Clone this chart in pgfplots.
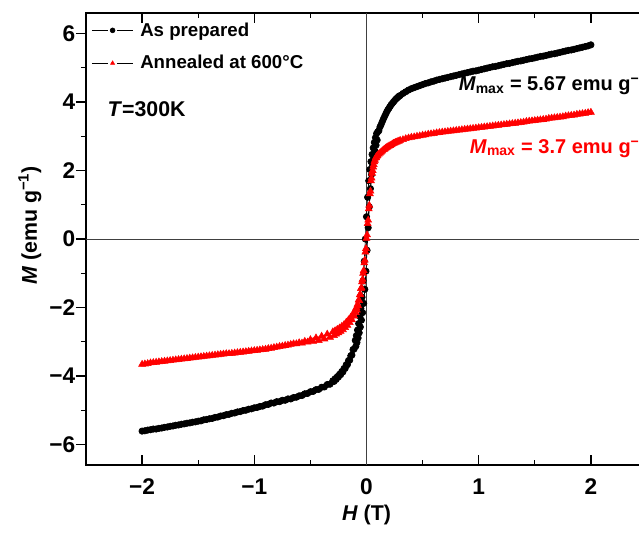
\documentclass[border=0pt]{standalone}
\usepackage{pgfplots}
\pgfplotsset{compat=1.18}
\usepackage{fontspec}
\setmainfont{Liberation Sans}

% magnetisation loops M(H) at 300 K
\newcommand{\tickfont}{\fontsize{17}{20}\selectfont\bfseries}
\newcommand{\labfont}{\fontsize{16}{19}\selectfont\bfseries}
\newcommand{\legfont}{\fontsize{14}{17}\selectfont\bfseries}
\newcommand{\annfont}{\fontsize{15}{18}\selectfont\bfseries}
\definecolor{zeroline}{HTML}{404040}

\begin{document}
\begin{tikzpicture}
\begin{axis}[
  scale only axis,
  width=420.75pt, height=339pt,
  xmin=-2.5, xmax=2.5, ymin=-6.6, ymax=6.6,
  axis line style={line width=1pt},
  xtick={-2,-1,0,1,2},
  xticklabels={−2,−1,0,1,2},
  ytick={-6,-4,-2,0,2,4,6},
  yticklabels={−6,−4,−2,0,2,4,6},
  minor x tick num=1, minor y tick num=1,
  xtick align=inside, ytick align=outside,
  xtick pos=both, ytick pos=left,
  major tick length=7.5pt, minor tick length=3.75pt,
  every tick/.style={line width=1pt, black},
  tick label style={font=\tickfont},
  xticklabel style={yshift=-7pt},
  yticklabel style={xshift=3pt},
  xlabel={\textit{H} (T)},
  ylabel={\textit{M} (emu g\textsuperscript{−1})},
  label style={font=\labfont},
  xlabel style={at={(axis description cs:0.5,-0.111)}, anchor=center},
  ylabel style={at={(axis description cs:-0.1,0.53)}, anchor=center},
  legend style={at={(axis description cs:0,1)}, anchor=north west,
    draw=none, fill=none, font=\legfont, row sep=9pt,
    inner xsep=4pt, inner ysep=5pt,
    /tikz/every odd column/.append style={column sep=3pt}},
  legend cell align=left,
  legend image code/.code={
    \draw[#1, mark=none] (0pt,0pt) -- (12pt,0pt);
    \draw[#1, mark=none] (19pt,0pt) -- (31pt,0pt);
    \draw[#1, only marks, mark size=1.8pt] plot coordinates {(15.5pt,0pt)};},
]
% zero lines
\addplot[zeroline, line width=0.7pt, forget plot] coordinates {(-2.5,0) (2.5,0)};
\addplot[zeroline, line width=0.7pt, forget plot] coordinates {(0,-6.6) (0,6.6)};

% as prepared: descending branch, then ascending branch
\addplot[black, line width=0.5pt, mark=*, mark size=2.4pt,
  mark options={fill=black, draw=black}] coordinates {
(2.00,5.67)(1.95,5.62)(1.90,5.58)(1.85,5.54)(1.80,5.51)(1.75,5.47)(1.70,5.43)(1.65,5.40)(1.60,5.36)(1.55,5.33)
(1.50,5.29)(1.45,5.26)(1.40,5.22)(1.35,5.19)(1.30,5.15)(1.25,5.12)(1.20,5.08)(1.15,5.04)(1.10,5.01)(1.05,4.97)
(1.00,4.93)(0.95,4.90)(0.90,4.86)(0.85,4.82)(0.80,4.78)(0.75,4.74)(0.70,4.70)(0.65,4.66)(0.60,4.61)(0.55,4.56)
(0.50,4.51)(0.45,4.45)(0.40,4.39)(0.35,4.30)(0.30,4.19)
(0.28,4.14)(0.26,4.08)(0.24,4.00)(0.22,3.92)(0.20,3.82)(0.18,3.71)(0.16,3.57)(0.14,3.42)(0.12,3.27)(0.10,3.13)
(0.09,3.08)(0.08,2.96)(0.07,2.82)(0.06,2.66)(0.05,2.47)(0.04,2.26)(0.03,2.03)(0.02,1.70)(0.01,1.22)(0.00,0.65)
(-0.01,0.00)(-0.02,-0.65)(-0.03,-1.22)(-0.04,-1.70)(-0.05,-2.03)(-0.06,-2.26)(-0.07,-2.47)(-0.08,-2.66)(-0.09,-2.82)(-0.10,-2.96)
(-0.12,-3.23)(-0.14,-3.41)(-0.16,-3.55)(-0.18,-3.67)(-0.20,-3.78)(-0.22,-3.87)(-0.24,-3.95)(-0.26,-4.02)(-0.28,-4.08)(-0.30,-4.14)
(-0.35,-4.25)(-0.40,-4.33)(-0.45,-4.40)(-0.50,-4.46)(-0.55,-4.52)(-0.60,-4.58)(-0.65,-4.63)(-0.70,-4.67)(-0.75,-4.71)(-0.80,-4.75)
(-0.85,-4.79)(-0.90,-4.84)(-0.95,-4.89)(-1.00,-4.93)(-1.05,-4.97)(-1.10,-5.01)(-1.15,-5.05)(-1.20,-5.09)(-1.25,-5.13)(-1.30,-5.17)
(-1.35,-5.21)(-1.40,-5.25)(-1.45,-5.28)(-1.50,-5.32)(-1.55,-5.35)(-1.60,-5.38)(-1.65,-5.41)(-1.70,-5.44)(-1.75,-5.47)(-1.80,-5.50)
(-1.85,-5.53)(-1.90,-5.55)(-1.95,-5.58)(-2.00,-5.61)
(-1.975,-5.60)(-1.925,-5.57)(-1.875,-5.55)(-1.825,-5.52)(-1.775,-5.49)(-1.725,-5.46)(-1.675,-5.43)(-1.625,-5.40)(-1.575,-5.37)(-1.525,-5.34)
(-1.475,-5.31)(-1.425,-5.27)(-1.375,-5.24)(-1.325,-5.20)(-1.275,-5.16)(-1.225,-5.12)(-1.175,-5.08)(-1.125,-5.04)(-1.075,-5.00)(-1.025,-4.96)
(-0.975,-4.92)(-0.925,-4.88)(-0.875,-4.83)(-0.825,-4.79)(-0.775,-4.75)(-0.725,-4.71)(-0.675,-4.67)(-0.625,-4.62)(-0.575,-4.57)(-0.525,-4.51)
(-0.475,-4.45)(-0.425,-4.39)(-0.375,-4.32)(-0.325,-4.24)
(-0.29,-4.16)(-0.27,-4.10)(-0.25,-4.03)(-0.23,-3.96)(-0.21,-3.88)(-0.19,-3.78)(-0.17,-3.67)(-0.15,-3.54)(-0.13,-3.39)(-0.11,-3.21)
(-0.095,-3.13)(-0.085,-3.02)(-0.075,-2.89)(-0.065,-2.74)(-0.055,-2.57)(-0.045,-2.37)(-0.035,-2.15)(-0.025,-1.88)(-0.015,-1.47)(-0.005,-0.94)
(0.005,-0.33)(0.015,0.33)(0.025,0.94)(0.035,1.47)(0.045,1.88)(0.055,2.15)(0.065,2.37)(0.075,2.57)(0.085,2.74)(0.095,2.89)
(0.11,3.16)(0.13,3.34)(0.15,3.50)(0.17,3.64)(0.19,3.77)(0.21,3.87)(0.23,3.96)(0.25,4.04)(0.27,4.11)(0.29,4.17)
(0.325,4.25)(0.375,4.35)(0.425,4.42)(0.475,4.48)(0.525,4.54)(0.575,4.59)(0.625,4.64)(0.675,4.68)(0.725,4.72)(0.775,4.76)
(0.825,4.80)(0.875,4.84)(0.925,4.88)(0.975,4.91)(1.025,4.95)(1.075,4.99)(1.125,5.03)(1.175,5.06)(1.225,5.10)(1.275,5.13)
(1.325,5.17)(1.375,5.20)(1.425,5.24)(1.475,5.27)(1.525,5.31)(1.575,5.34)(1.625,5.38)(1.675,5.41)(1.725,5.45)(1.775,5.49)
(1.825,5.52)(1.875,5.56)(1.925,5.60)(1.975,5.64)
};
\addlegendentry{As prepared}

% annealed at 600 C: descending branch, then ascending branch
\addplot[black, line width=0.4pt, mark=triangle*, mark size=3pt,
  mark options={fill=red, draw=red}] coordinates {
(2.00,3.70)(1.95,3.67)(1.90,3.65)(1.85,3.62)(1.80,3.60)(1.75,3.57)(1.70,3.55)(1.65,3.53)(1.60,3.50)(1.55,3.48)
(1.50,3.46)(1.45,3.44)(1.40,3.41)(1.35,3.39)(1.30,3.37)(1.25,3.35)(1.20,3.33)(1.15,3.31)(1.10,3.29)(1.05,3.27)
(1.00,3.25)(0.95,3.23)(0.90,3.21)(0.85,3.19)(0.80,3.17)(0.75,3.15)(0.70,3.13)(0.65,3.11)(0.60,3.08)(0.55,3.06)
(0.50,3.03)(0.45,3.00)(0.40,2.97)(0.35,2.93)(0.30,2.88)
(0.28,2.85)(0.26,2.82)(0.24,2.79)(0.22,2.75)(0.20,2.71)(0.18,2.67)(0.16,2.62)(0.14,2.57)(0.12,2.51)(0.10,2.45)
(0.09,2.41)(0.08,2.36)(0.07,2.25)(0.06,2.10)(0.05,1.92)(0.04,1.70)(0.03,1.32)(0.02,0.88)(0.01,0.45)(0.00,0.02)
(-0.01,-0.38)(-0.02,-0.70)(-0.03,-1.00)(-0.04,-1.25)(-0.05,-1.45)(-0.06,-1.63)(-0.07,-1.78)(-0.08,-1.91)(-0.09,-2.00)(-0.10,-2.07)
(-0.12,-2.19)(-0.14,-2.28)(-0.16,-2.36)(-0.18,-2.43)(-0.20,-2.50)(-0.22,-2.55)(-0.24,-2.60)(-0.26,-2.64)(-0.28,-2.68)(-0.30,-2.71)
(-0.35,-2.78)(-0.40,-2.84)(-0.45,-2.89)(-0.50,-2.94)(-0.55,-2.99)(-0.60,-3.03)(-0.65,-3.06)(-0.70,-3.10)(-0.75,-3.13)(-0.80,-3.16)
(-0.85,-3.19)(-0.90,-3.22)(-0.95,-3.24)(-1.00,-3.26)(-1.05,-3.28)(-1.10,-3.30)(-1.15,-3.32)(-1.20,-3.34)(-1.25,-3.35)(-1.30,-3.37)
(-1.35,-3.39)(-1.40,-3.41)(-1.45,-3.43)(-1.50,-3.45)(-1.55,-3.47)(-1.60,-3.49)(-1.65,-3.51)(-1.70,-3.53)(-1.75,-3.55)(-1.80,-3.57)
(-1.85,-3.59)(-1.90,-3.61)(-1.95,-3.64)(-2.00,-3.66)
(-1.975,-3.65)(-1.925,-3.62)(-1.875,-3.60)(-1.825,-3.58)(-1.775,-3.56)(-1.725,-3.54)(-1.675,-3.52)(-1.625,-3.50)(-1.575,-3.48)(-1.525,-3.46)
(-1.475,-3.44)(-1.425,-3.42)(-1.375,-3.40)(-1.325,-3.38)(-1.275,-3.36)(-1.225,-3.35)(-1.175,-3.33)(-1.125,-3.31)(-1.075,-3.29)(-1.025,-3.27)
(-0.975,-3.25)(-0.925,-3.23)(-0.875,-3.20)(-0.825,-3.17)(-0.775,-3.14)(-0.725,-3.11)(-0.675,-3.08)(-0.625,-3.06)(-0.575,-3.04)(-0.525,-3.01)
(-0.475,-2.99)(-0.425,-2.97)(-0.375,-2.92)(-0.325,-2.87)
(-0.29,-2.82)(-0.27,-2.78)(-0.25,-2.74)(-0.23,-2.70)(-0.21,-2.65)(-0.19,-2.59)(-0.17,-2.52)(-0.15,-2.44)(-0.13,-2.36)(-0.11,-2.25)
(-0.095,-2.15)(-0.085,-2.08)(-0.075,-1.95)(-0.065,-1.80)(-0.055,-1.62)(-0.045,-1.42)(-0.035,-1.18)(-0.025,-0.92)(-0.015,-0.62)(-0.005,-0.28)
(0.005,0.12)(0.015,0.55)(0.025,0.98)(0.035,1.40)(0.045,1.78)(0.055,2.00)(0.065,2.17)(0.075,2.30)(0.085,2.38)(0.095,2.43)
(0.11,2.48)(0.13,2.54)(0.15,2.60)(0.17,2.65)(0.19,2.69)(0.21,2.73)(0.23,2.77)(0.25,2.80)(0.27,2.83)(0.29,2.86)
(0.325,2.90)(0.375,2.95)(0.425,2.98)(0.475,3.01)(0.525,3.04)(0.575,3.07)(0.625,3.10)(0.675,3.12)(0.725,3.14)(0.775,3.16)
(0.825,3.18)(0.875,3.20)(0.925,3.22)(0.975,3.24)(1.025,3.26)(1.075,3.28)(1.125,3.30)(1.175,3.32)(1.225,3.34)(1.275,3.36)
(1.325,3.38)(1.375,3.40)(1.425,3.43)(1.475,3.45)(1.525,3.47)(1.575,3.49)(1.625,3.52)(1.675,3.54)(1.725,3.56)(1.775,3.59)
(1.825,3.61)(1.875,3.64)(1.925,3.66)(1.975,3.69)
};
\addlegendentry{Annealed at 600\textdegree C}

\node[anchor=west, font=\labfont] at (axis cs:-2.35,3.8) {\textit{T}=300K};
\node[anchor=base west, font=\annfont, inner sep=0pt]
  at (axis cs:0.82,4.33) {\textit{M}\textsubscript{max} = 5.67 emu g\textsuperscript{−1}};
\node[anchor=base west, font=\annfont, text=red, inner sep=0pt]
  at (axis cs:0.92,2.51) {\textit{M}\textsubscript{max} = 3.7 emu g\textsuperscript{−1}};
\end{axis}
\pgfresetboundingbox
\path ([shift={(-64.5pt,-51pt)}]current axis.south west)
  rectangle ([shift={(414.75pt,348.75pt)}]current axis.south west);
\end{tikzpicture}
\end{document}
